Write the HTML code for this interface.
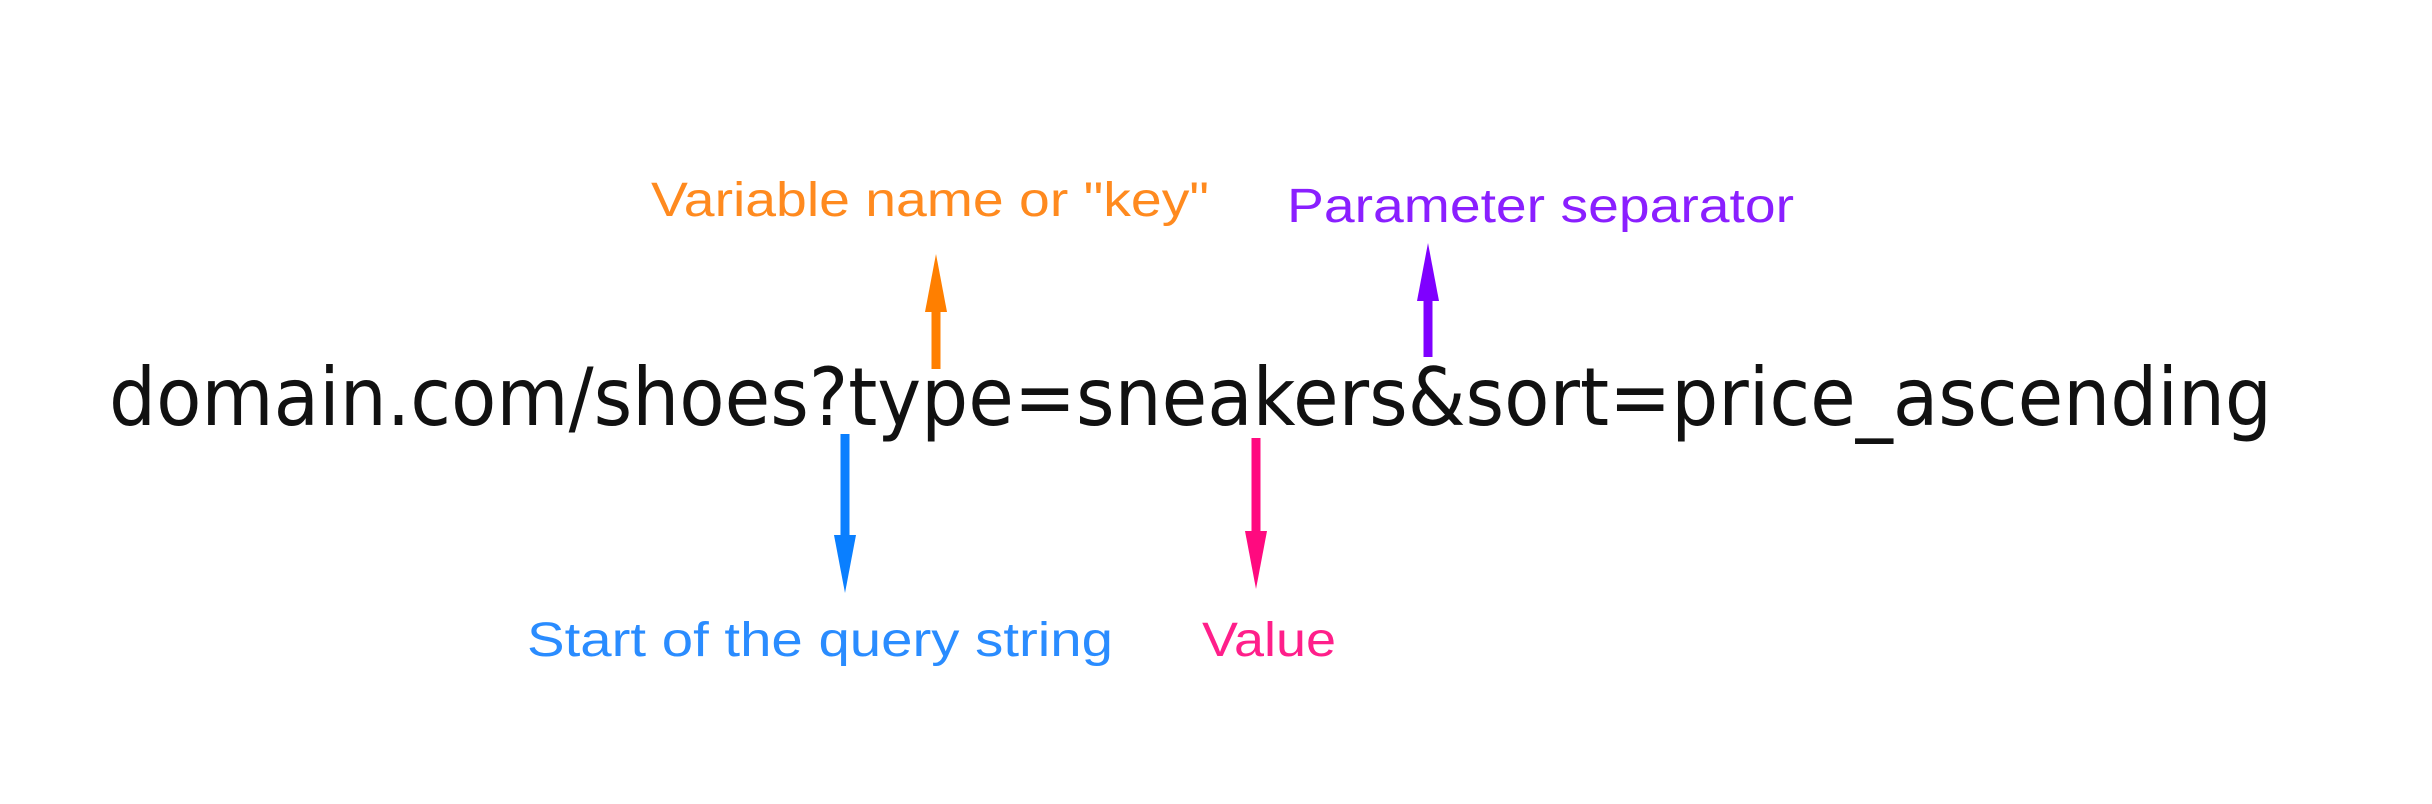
<!DOCTYPE html>
<html><head><meta charset="utf-8"><style>
html,body{margin:0;padding:0;background:#fff;width:2432px;height:804px;overflow:hidden}
svg text{font-family:"Liberation Sans","DejaVu Sans",sans-serif}
</style></head><body>
<svg width="2432" height="804" viewBox="0 0 2432 804" xmlns="http://www.w3.org/2000/svg">
<text x="109" y="425" font-size="80" fill="#111" style="font-family:'DejaVu Sans',sans-serif" textLength="2163" lengthAdjust="spacingAndGlyphs">domain.com/shoes?type=sneakers&amp;sort=price_ascending</text>
<text x="651" y="216" font-size="48" fill="#ff8a1f" textLength="558" lengthAdjust="spacingAndGlyphs">Variable name or "key"</text>
<text x="1287" y="222" font-size="48" fill="#8a1fff" textLength="507" lengthAdjust="spacingAndGlyphs">Parameter separator</text>
<text x="527" y="656" font-size="48" fill="#2a8cff" textLength="586" lengthAdjust="spacingAndGlyphs">Start of the query string</text>
<text x="1202" y="656" font-size="48" fill="#ff1f8a" textLength="134" lengthAdjust="spacingAndGlyphs">Value</text>
<line x1="936" y1="369" x2="936" y2="305" stroke="#ff7f00" stroke-width="9"/>
<polygon points="925,312 947,312 936,254" fill="#ff7f00"/>
<line x1="1428" y1="357" x2="1428" y2="295" stroke="#7f00ff" stroke-width="9"/>
<polygon points="1417,301 1439,301 1428,243" fill="#7f00ff"/>
<line x1="845" y1="434" x2="845" y2="542" stroke="#0a7fff" stroke-width="9"/>
<polygon points="834,535 856,535 845,593" fill="#0a7fff"/>
<line x1="1256" y1="438" x2="1256" y2="538" stroke="#ff0a7f" stroke-width="9"/>
<polygon points="1245,531 1267,531 1256,589" fill="#ff0a7f"/>
</svg>
</body></html>
